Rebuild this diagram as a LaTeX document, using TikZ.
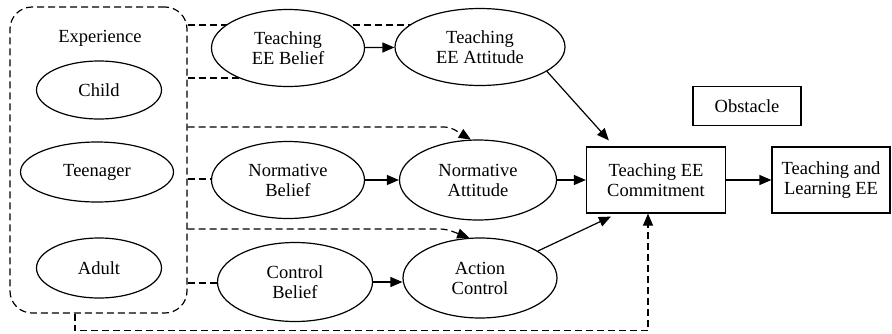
\documentclass[tikz,border=0pt]{standalone}
\usepackage{fontspec}
\setmainfont{Liberation Serif}
\usetikzlibrary{positioning,arrows.meta,shapes.geometric,backgrounds}

\begin{document}
\begin{tikzpicture}[x=1pt,y=-1pt,>={Triangle[length=12pt,width=10pt]},
  every node/.style={font=\fontsize{18.5}{20}\selectfont,align=center},
  oval/.style={draw,ellipse,fill=white,line width=1.2pt,inner sep=0pt},
  box/.style={draw,rectangle,fill=white,line width=1.2pt,inner sep=0pt},
  dashline/.style={dash pattern=on 7pt off 4pt,line width=1.2pt},
  link/.style={->,line width=1.2pt}]
\useasboundingbox (0,0) rectangle (892,333);
% experience group
\node[draw,dashline,rounded corners=22pt,minimum width=177pt,minimum height=306pt] (exp) at (98.5,160) {};
\node (exptxt) at (100,38) {Experience};
\node[oval,minimum width=125pt,minimum height=58pt] (child) at (99,90) {Child};
\node[oval,minimum width=153pt,minimum height=60pt] (teen) at (97,172) {Teenager};
\node[oval,minimum width=125pt,minimum height=60pt] (adult) at (99,268) {Adult};
% beliefs and attitudes
\node[oval,minimum width=153pt,minimum height=77pt] (tbel) at (288,48) {Teaching\\EE Belief};
\node[oval,minimum width=170pt,minimum height=77pt] (tatt) at (480,47) {Teaching\\EE Attitude};
\node[oval,minimum width=153pt,minimum height=77pt] (nbel) at (288,180) {Normative\\Belief};
\node[oval,minimum width=157pt,minimum height=80pt] (natt) at (478,180) {Normative\\Attitude};
\node[oval,minimum width=155pt,minimum height=79pt] (cbel) at (295,282) {Control\\Belief};
\node[oval,minimum width=154pt,minimum height=80pt] (actl) at (480,278) {Action\\Control};
% outcomes
\node[box,minimum width=139pt,minimum height=66pt] (commit) at (656,180) {Teaching EE\\Commitment};
\node[box,minimum width=108pt,minimum height=39pt] (obst) at (747,106) {Obstacle};
\node[box,minimum width=118pt,minimum height=66pt] (tle) at (831,180) {Teaching and\\Learning EE};
% experience links
\begin{scope}[on background layer]
\draw[dashline] (exp.east |- 0,25) -- (tatt.center |- 0,25);
\draw[dashline] (exp.east |- 0,78) -- (tbel.center |- 0,78);
\draw[dashline] (exp.east |- 0,179) -- (nbel.center |- 0,179);
\draw[dashline] (exp.east |- 0,283) -- (cbel.center |- 0,283);
\end{scope}
\draw[dashline,->,rounded corners=6pt] (exp.east |- 0,127) -- (450,127) -- (natt.100);
\draw[dashline,->,rounded corners=6pt] (exp.east |- 0,229) -- (446,229) -- (actl.105);
\draw[dashline,->] (exp.south -| 75,0) -- ++(0,17) -| ([xshift=-8pt]commit.south);
% solid links
\draw[link] (tbel) -- (tatt);
\draw[link] (nbel) -- (natt);
\draw[link] (cbel.east) -- (cbel.east -| actl.west);
\draw[link] (tatt.-20) -- ([xshift=23pt,yshift=6pt]commit.north west);
\draw[link] (natt) -- (commit);
\draw[link] (actl.25) -- ([xshift=25pt,yshift=-3pt]commit.south west);
\draw[link] (commit) -- (tle);
\end{tikzpicture}
\end{document}
